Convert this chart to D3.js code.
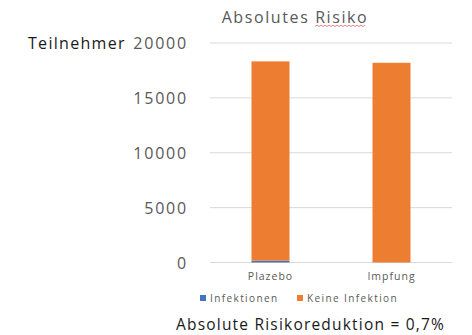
<!DOCTYPE html>
<html>
<head>
<meta charset="utf-8">
<script src="https://cdn.jsdelivr.net/npm/d3@7"></script>
<style>
  html, body { margin: 0; padding: 0; background: #fff; }
  svg { display: block; }
</style>
</head>
<body>
<svg id="chart" width="472" height="335"></svg>
<script>
// Study arms and participant counts per outcome
const categories = ["Plazebo", "Impfung"];
const infektionen = [162, 8];
const keineInfektion = [18163, 18190];
const seriesNames = ["Infektionen", "Keine Infektion"];
const yTicks = [0, 5000, 10000, 15000, 20000];

const colors = ["#4472C4", "#ED7D31"];
const font = "'Open Sans', 'Liberation Sans', sans-serif";

const svg = d3.select("#chart");
const plot = { left: 210, right: 452, top: 43, bottom: 262.5 };

const x = d3.scaleBand().domain(categories)
  .range([plot.left, plot.right]).paddingInner(0.686).paddingOuter(0.343);
const y = d3.scaleLinear().domain([0, 20000]).range([plot.bottom, plot.top]);

// Gridlines
svg.append("g").selectAll("line").data(yTicks).join("line")
  .attr("x1", plot.left).attr("x2", plot.right)
  .attr("y1", d => y(d)).attr("y2", d => y(d))
  .attr("stroke", "#D9D9D9").attr("stroke-width", 1);

// Y axis labels
const yAxis = svg.append("g")
  .attr("transform", `translate(${plot.left - 22},0)`)
  .call(d3.axisLeft(y).tickValues(yTicks).tickSize(0).tickPadding(0).tickFormat(d3.format("d")));
yAxis.select(".domain").remove();
yAxis.selectAll("text")
  .attr("font-family", font).attr("font-size", 16).attr("fill", "#595959")
  .attr("letter-spacing", 1.8).attr("dy", "0.35em");

// Stacked bars
const table = categories.map((c, i) => ({ cat: c, Infektionen: infektionen[i], "Keine Infektion": keineInfektion[i] }));
const stacked = d3.stack().keys(seriesNames)(table);
svg.append("g").selectAll("g").data(stacked).join("g")
  .attr("fill", (d, i) => colors[i])
  .selectAll("rect").data(d => d).join("rect")
  .attr("x", d => x(d.data.cat))
  .attr("width", x.bandwidth())
  .attr("y", d => y(d[1]))
  .attr("height", d => y(d[0]) - y(d[1]));

// Category labels
const xAxis = svg.append("g")
  .attr("transform", `translate(0,${plot.bottom + 14})`)
  .call(d3.axisBottom(x).tickSize(0).tickPadding(0));
xAxis.select(".domain").remove();
xAxis.selectAll("text")
  .attr("font-family", font).attr("font-size", 10.5).attr("fill", "#595959")
  .attr("letter-spacing", 1).attr("dy", "0.35em");

// Title
svg.append("text")
  .attr("x", 295).attr("y", 17).attr("dy", "0.35em")
  .attr("text-anchor", "middle")
  .attr("font-family", font).attr("font-size", 16).attr("fill", "#595959")
  .attr("letter-spacing", 1.6)
  .text("Absolutes Risiko");

// Spell-check squiggle under "Risiko"
const squiggle = d3.range(0, 26).map(i => [315 + i * 2, 26 + (i % 2 ? -1 : 0.5)]);
svg.append("path").attr("d", d3.line()(squiggle))
  .attr("fill", "none").attr("stroke", "#E06666").attr("stroke-width", 0.8);

// Y axis title
svg.append("text")
  .attr("x", 28).attr("y", 43).attr("dy", "0.35em")
  .attr("font-family", font).attr("font-size", 16).attr("fill", "#1a1a1a")
  .attr("letter-spacing", 1.3)
  .text("Teilnehmer");

// Legend
const legendItems = [
  { name: seriesNames[0], color: colors[0], x: 200 },
  { name: seriesNames[1], color: colors[1], x: 297 }
];
const legend = svg.append("g").selectAll("g").data(legendItems).join("g")
  .attr("transform", d => `translate(${d.x},298)`);
legend.append("rect").attr("x", 0).attr("y", -3).attr("width", 6).attr("height", 6)
  .attr("fill", d => d.color);
legend.append("text").attr("x", 10).attr("dy", "0.35em")
  .attr("font-family", font).attr("font-size", 10).attr("fill", "#595959")
  .attr("letter-spacing", 1.4)
  .text(d => d.name);

// Footnote
svg.append("text")
  .attr("x", 176).attr("y", 324.5).attr("dy", "0.35em")
  .attr("font-family", font).attr("font-size", 15.5).attr("fill", "#1a1a1a")
  .attr("letter-spacing", 1.2)
  .text("Absolute Risikoreduktion = 0,7%");
</script>
</body>
</html>
